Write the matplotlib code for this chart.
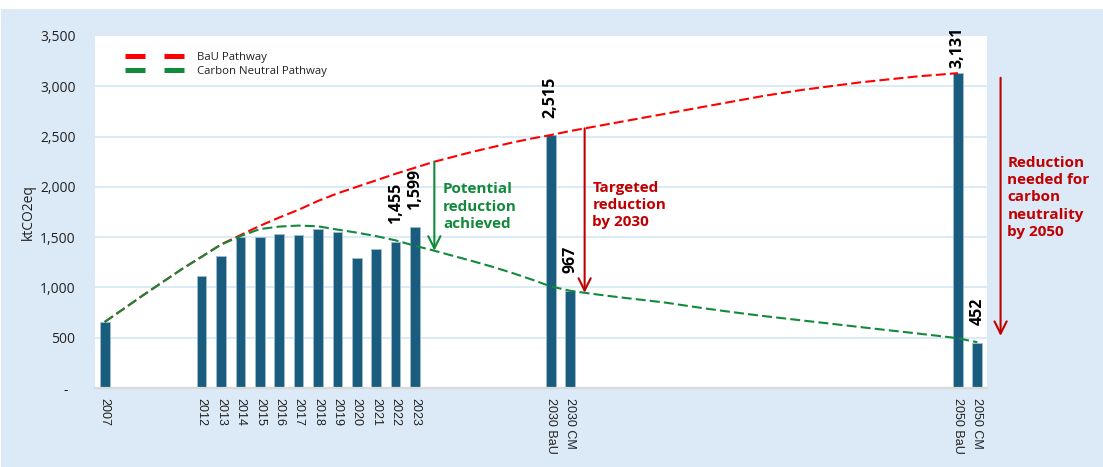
import numpy as np
import matplotlib
matplotlib.use('Agg')
import matplotlib.pyplot as plt
from matplotlib.patches import Rectangle
from matplotlib.lines import Line2D

# ---------------- data ----------------
categories = ['2007', '', '', '', '',
              '2012', '2013', '2014', '2015', '2016', '2017', '2018', '2019',
              '2020', '2021', '2022', '2023',
              '', '', '', '', '', '',
              '2030 BaU', '2030 CM',
              '', '', '', '', '', '', '', '', '', '', '', '', '', '', '', '', '', '', '',
              '2050 BaU', '2050 CM']

bar_cats = ['2007', '2012', '2013', '2014', '2015', '2016', '2017', '2018', '2019',
            '2020', '2021', '2022', '2023', '2030 BaU', '2030 CM', '2050 BaU', '2050 CM']
bar_values = [655, 1110, 1310, 1500, 1505, 1530, 1520, 1585, 1555,
              1290, 1380, 1455, 1599, 2515, 967, 3131, 452]
labeled_cats = ['2022', '2023', '2030 BaU', '2030 CM', '2050 BaU', '2050 CM']

nan = np.nan
bau_pathway = [657, 790, 925, 1055, 1185, 1305, 1428, 1520, 1612, 1695,
               1772, 1860, 1935, 2000, 2065, 2130, 2190, 2250, 2300, 2350,
               2395, 2440, 2480, 2515, 2555, 2590, 2625, 2660, 2695, 2730,
               2765, 2800, 2835, 2870, 2905, 2935, 2965, 2990, 3015, 3040,
               3060, 3080, 3100, 3115, 3131, nan]
cn_pathway = [657, 790, 925, 1055, 1185, 1305, 1425, 1510, 1580, 1605,
              1615, 1608, 1575, 1545, 1510, 1468, 1414, 1365, 1312, 1260,
              1205, 1145, 1080, 1010, 967, 940, 915, 892, 870, 847,
              818, 790, 764, 739, 715, 693, 671, 649, 627, 605,
              583, 562, 540, 518, 495, 455]

y_ticks = [0, 500, 1000, 1500, 2000, 2500, 3000, 3500]
y_tick_labels = ['-  ', '500', '1,000', '1,500', '2,000', '2,500', '3,000', '3,500']

# ---------------- style ----------------
BG = '#dce9f6'
BAR = '#1a5c7e'
RED = '#ff0000'
GREEN = '#12893b'
DARKRED = '#c00000'
FONT = ['Open Sans', 'DejaVu Sans']

fig = plt.figure(figsize=(11.03, 4.67), dpi=100, facecolor='white')
fig.add_artist(Rectangle((1 / 1103, 0), 1, 458 / 467, transform=fig.transFigure,
                         facecolor=BG, edgecolor='none', zorder=-10))

ax = fig.add_axes([95 / 1103, (467 - 388) / 467, (987 - 95) / 1103, (388 - 36) / 467])
ax.set_facecolor('white')

n = len(categories)
xs = np.arange(n)
bar_pos = [categories.index(c) for c in bar_cats]

ax.bar(bar_pos, bar_values, width=0.5, color=BAR, edgecolor='#9fbfd1',
       linewidth=0.6, zorder=3)

dash = (0, (4.8, 2.0))
ax.plot(xs, bau_pathway, color=RED, lw=1.5, linestyle=dash, zorder=4,
        dash_capstyle='butt')
ax.plot(xs, cn_pathway, color=GREEN, lw=1.5, linestyle=dash, zorder=5,
        dash_capstyle='butt')

ax.set_xlim(-0.5, n - 0.5)
ax.set_ylim(0, 3500)

# value labels (labels near the top of the plot sit closer to their bar)
ymax = ax.get_ylim()[1]
for c in labeled_cats:
    i = bar_cats.index(c)
    off = 12.5 if bar_values[i] < 0.85 * ymax else 3.5
    ax.annotate(f'{bar_values[i]:,.0f}', xy=(bar_pos[i], bar_values[i]),
                xytext=(0, off), textcoords='offset points', rotation=90,
                ha='center', va='bottom', fontsize=11.5, fontweight='bold',
                family=FONT, color='black', zorder=6, annotation_clip=False)

ax.set_yticks(y_ticks)
ax.set_yticklabels(y_tick_labels, family=FONT, fontsize=10, color='#222222')
tick_pos = [i for i, c in enumerate(categories) if c]
ax.set_xticks(tick_pos)
ax.set_xticklabels([categories[i] for i in tick_pos], rotation=270,
                   family=['Liberation Sans', 'DejaVu Sans'], fontsize=9,
                   color='#222222', va='top', ha='center')
ax.tick_params(axis='y', length=0, pad=14)
ax.tick_params(axis='x', length=0, pad=7)

ax.yaxis.grid(True, color='#cfe6f3', lw=1.1, zorder=0)
ax.set_axisbelow(True)
ax.get_ygridlines()[-1].set_visible(False)
for s in ['top', 'right', 'left']:
    ax.spines[s].set_visible(False)
ax.spines['bottom'].set_color('#d9d9d9')
ax.spines['bottom'].set_linewidth(1.6)
ax.spines['bottom'].set_zorder(6)

ax.set_ylabel('ktCO2eq', family=FONT, fontsize=10, color='#222222')
ax.yaxis.set_label_coords(-(95 - 36) / 892, 0.5)

# legend
handles = [Line2D([], [], color=RED, lw=3.6, linestyle=(0, (4.0, 3.8)), dash_capstyle='butt'),
           Line2D([], [], color=GREEN, lw=3.6, linestyle=(0, (4.0, 3.8)), dash_capstyle='butt')]
leg = ax.legend(handles, ['BaU Pathway', 'Carbon Neutral Pathway'],
                loc='upper left', bbox_to_anchor=(0.028, 0.968), frameon=False,
                prop={'family': FONT, 'size': 8.2}, handlelength=5.5,
                handletextpad=0.9, labelspacing=0.3, borderaxespad=0)
for t in leg.get_texts():
    t.set_color('#222222')

# annotations
arrow_kw = dict(arrowstyle='->', lw=1.5, mutation_scale=22, shrinkA=0, shrinkB=0)
txt_kw = dict(fontsize=11, fontweight='bold', family=FONT, va='top', ha='left',
              linespacing=1.3)

x_g = 17
ax.annotate('', xy=(x_g, cn_pathway[x_g]), xytext=(x_g, bau_pathway[x_g]),
            arrowprops=dict(color=GREEN, **arrow_kw), zorder=7)
ax.text(17.45, 2045, 'Potential\nreduction\nachieved', color=GREEN, **txt_kw)

x_r = 24.75
ax.annotate('', xy=(x_r, np.interp(x_r, xs, cn_pathway)),
            xytext=(x_r, np.interp(x_r, xs, bau_pathway)),
            arrowprops=dict(color=DARKRED, **arrow_kw), zorder=7)
ax.text(25.15, 2060, 'Targeted\nreduction\nby 2030', color=DARKRED, **txt_kw)

x_o = 46.2
ax.annotate('', xy=(x_o, 518), xytext=(x_o, 3085),
            arrowprops=dict(color=DARKRED, **arrow_kw), zorder=7,
            annotation_clip=False)
ax.text(46.55, 2310, 'Reduction\nneeded for\ncarbon\nneutrality\nby 2050',
        color=DARKRED, clip_on=False, **txt_kw)

fig.savefig('out.png', dpi=100, facecolor=fig.get_facecolor())
